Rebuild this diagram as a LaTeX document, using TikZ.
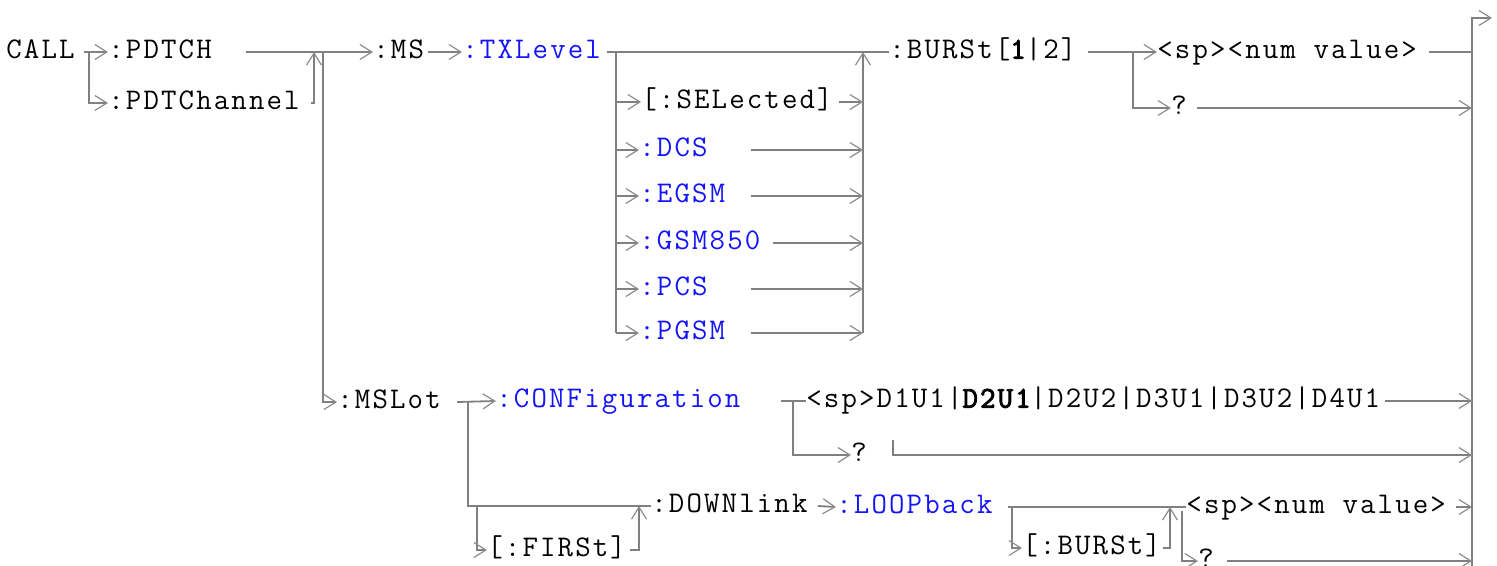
\documentclass[tikz,border=0pt]{standalone}
\usepackage{fontspec}
\newfontfamily\railfont[LetterSpace=7.1]{Latin Modern Mono}
\newfontfamily\railbold[LetterSpace=7.1,FakeBold=3]{Latin Modern Mono}
\newcommand\bd[1]{{\railbold #1}}
\usetikzlibrary{arrows.meta}
\definecolor{railgray}{RGB}{128,128,128}
\definecolor{tipgray}{RGB}{140,140,140}
\definecolor{cmdblue}{RGB}{20,20,250}

\begin{document}
\begin{tikzpicture}[x=0.5pt,y=-0.5pt,
		word/.style={anchor=west,inner sep=0pt,text height=8pt,text depth=1.4pt,
			font=\railfont\fontsize{15}{18}\selectfont},
		sub/.style={word,text=cmdblue},
		rail/.style={draw=railgray,line width=0.9pt},
		arr/.style={rail,-{Straight Barb[length=6pt,width=7.5pt,line width=0.6pt,color=tipgray]}}]
	
	\useasboundingbox (0,0) rectangle (1497,566);
	
	\node[word] (call)    at (6,52)     {CALL};
	\node[word] (pdtch)   at (108,52)   {:PDTCH};
	\node[word] (pdtchan) at (108,103)  {:PDTChannel};
	\node[word] (ms)      at (373,52)   {:MS};
	\node[sub]  (txlev)   at (462,52)   {:TXLevel};
	\node[word] (sel)     at (641,102)  {[:SELected]};
	\node[sub]  (dcs)     at (639,150)  {:DCS};
	\node[sub]  (egsm)    at (639,196)  {:EGSM};
	\node[sub]  (gsm)     at (639,243)  {:GSM850};
	\node[sub]  (pcs)     at (639,289)  {:PCS};
	\node[sub]  (pgsm)    at (639,333)  {:PGSM};
	\node[word] (burst)   at (889,52)   {:BURSt[\bd{1}|2]};
	\node[word] (num)     at (1157,52)  {<sp><num value>};
	\node[word] (qa)      at (1171,108) {?};
	\node[word] (mslot)   at (337,402)  {:MSLot};
	\node[sub]  (conf)    at (496,401)  {:CONFiguration};
	\node[word] (dlist)   at (806,401)  {<sp>D1U1|\bd{D2U1}|D2U2|D3U1|D3U2|D4U1};
	\node[word] (qb)      at (851,455)  {?};
	\node[word] (first)   at (487,550)  {[:FIRSt]};
	\node[word] (down)    at (651,506)  {:DOWNlink};
	\node[sub]  (loop)    at (836,507)  {:LOOPback};
	\node[word] (bst)     at (1022,548) {[:BURSt]};
	\node[word] (numb)    at (1186,507) {<sp><num value>};
	\node[word] (qc)      at (1198,561) {?};
	
	\coordinate (jcall)    at (89,52);
	\coordinate (jpd)      at (314,52);
	\coordinate (jmain)    at (323,52);
	\coordinate (jtx)      at (616,52);
	\coordinate (jrj)      at (863,52);
	\coordinate (optout)   at (751,52);
	\coordinate (jbu)      at (1133,52);
	\coordinate (jend)     at (1472,52);
	\coordinate (railfoot) at (1472,566);
	\coordinate (exit)     at (1492,18);
	\coordinate (jms)      at (468,402);
	\coordinate (jfi)      at (477,506);
	\coordinate (jfo)      at (639,506);
	\coordinate (jcf)      at (793,401);
	\coordinate (jlb)      at (1012,507);
	\coordinate (jlo)      at (1170,507);
	\coordinate (jq)       at (1182,511);
	
	\draw[arr] ([xshift=4.5pt]call.east) -- (pdtch.west);
	\draw[arr] (jcall) |- (pdtchan.west);
	\draw[arr] ([xshift=17pt]pdtch.east) -- (ms.west);
	\draw[arr] ([xshift=5.5pt]pdtchan.east) -| (jpd);
	\draw[arr] (jmain) |- (mslot.west);
	
	\draw[arr] ([xshift=2pt]ms.east) -- (txlev.west);
	\draw[rail] ([xshift=3pt]txlev.east) -- (burst.west);
	\draw[rail] (jtx) -- (jtx |- pgsm.west);
	\foreach \n in {sel,dcs,egsm,gsm,pcs,pgsm}
	\draw[arr] (jtx |- \n.west) -- (\n.west);
	\draw[arr] (jrj |- pgsm.west) -- (jrj);
	\draw[arr] ([xshift=3pt]sel.east) -- (jrj |- sel.west);
	\draw[arr] ([xshift=6pt]gsm.east) -- (jrj |- gsm.west);
	\foreach \n in {dcs,egsm,pcs,pgsm}
	\draw[arr] (optout |- \n.west) -- (jrj |- \n.west);
	
	\draw[arr] ([xshift=5.5pt]burst.east) -- (num.west);
	\draw[arr] (jbu) |- (qa.west);
	\draw[rail] ([xshift=6pt]num.east) -- (jend |- num.west);
	\draw[arr] ([xshift=5pt]qa.east) -- (jend |- qa.west);
	\draw[arr] (railfoot) |- (exit);
	
	\draw[arr] ([xshift=8pt]mslot.east) -- (conf.west);
	\draw[rail] (jms) |- (down.west);
	\draw[arr] (jfi) |- (first.west);
	\draw[arr] ([xshift=2pt]first.east) -| (jfo);
	\draw[rail] ([xshift=20pt]conf.east) -- (dlist.west);
	\draw[arr] (jcf) |- (qb.west);
	\draw[arr] ([xshift=2pt]dlist.east) -- (jend |- dlist.west);
	\draw[arr] ([xshift=13pt,yshift=7.5pt]qb.east) |- (jend |- qb.west);
	
	\draw[arr] ([xshift=5pt]down.east) -- (loop.west);
	\draw[rail] ([xshift=7.5pt]loop.east) -- (numb.west);
	\draw[arr] (jlb) |- (bst.west);
	\draw[arr] ([xshift=1pt]bst.east) -| (jlo);
	\draw[arr] ([xshift=5pt]numb.east) -- (jend |- numb.west);
	\draw[arr] (jq) |- (qc.west);
	\draw[arr] ([xshift=6.5pt]qc.east) -- (jend |- qc.west);
\end{tikzpicture}
\end{document}
